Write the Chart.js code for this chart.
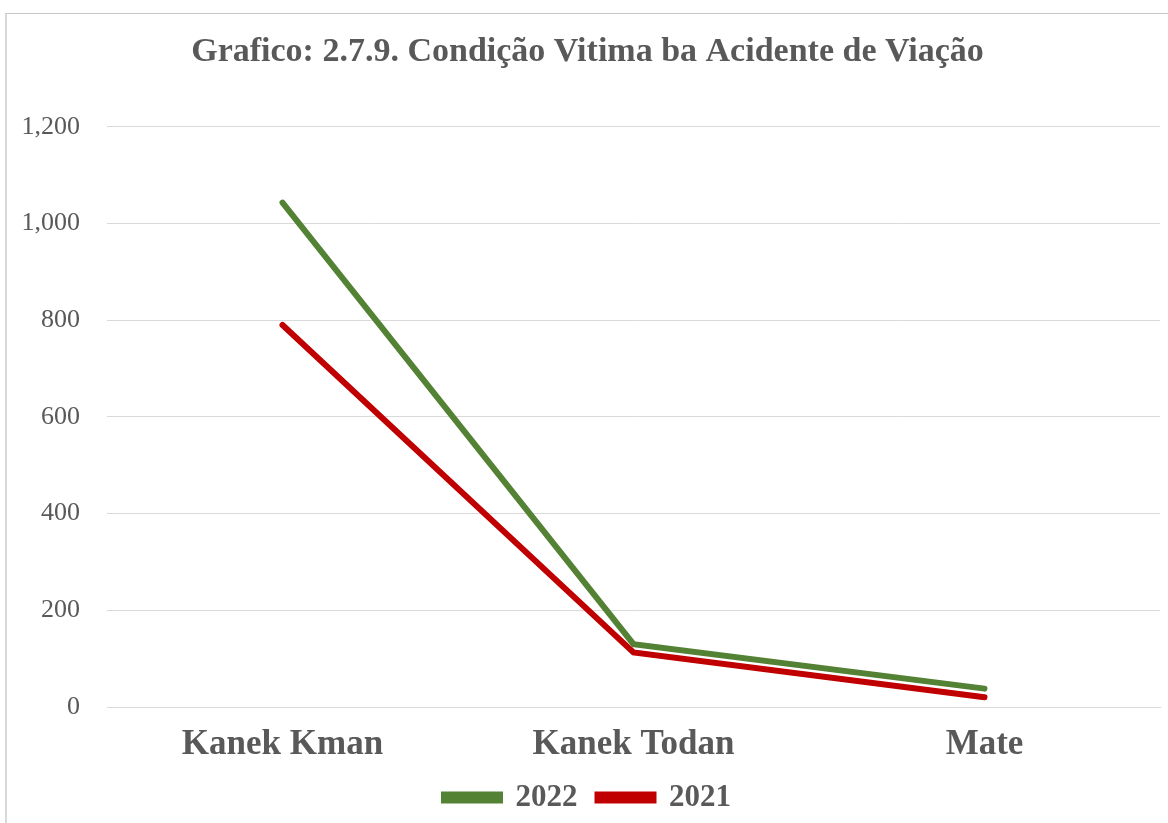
<!DOCTYPE html>
<html>
<head>
<meta charset="utf-8">
<script src="https://cdn.jsdelivr.net/npm/chart.js@4/dist/chart.umd.min.js"></script>
<style>
  body { margin: 0; background: #fff; }
  #frame { position: absolute; left: 5px; top: 13px; width: 1200px; height: 900px;
           border-left: 2px solid #d9d9d9; border-top: 1px solid #c8c8c8; }
  #wrap { position: absolute; left: 0; top: 0; width: 1168px; height: 823px; }
</style>
</head>
<body>
<div id="frame"></div>
<div id="wrap"><canvas id="chart"></canvas></div>
<script>
const categories = ['Kanek Kman', 'Kanek Todan', 'Mate'];
const values2022 = [1043, 130, 38];
const values2021 = [790, 113, 20];
const yTicks = [0, 200, 400, 600, 800, 1000, 1200];

const grey = '#595959';
const serif = "'Liberation Serif', 'Times New Roman', serif";

new Chart(document.getElementById('chart'), {
    type: 'line',
    data: {
        labels: categories,
        datasets: [
            {
                label: '2022',
                data: values2022,
                borderColor: '#548235',
                backgroundColor: '#548235',
                borderWidth: 6,
                pointRadius: 0,
                tension: 0,
                borderCapStyle: 'round'
            },
            {
                label: '2021',
                data: values2021,
                borderColor: '#c00000',
                backgroundColor: '#c00000',
                borderWidth: 6,
                pointRadius: 0,
                tension: 0,
                borderCapStyle: 'round'
            }
        ]
    },
    options: {
        responsive: true,
        maintainAspectRatio: false,
        animation: false,
        layout: { padding: { left: 15, right: 8, top: 0, bottom: 0 } },
        plugins: {
            title: {
                display: true,
                text: 'Grafico: 2.7.9. Condição Vitima ba Acidente de Viação',
                color: grey,
                font: { family: serif, size: 34, weight: 'bold' },
                padding: { top: 32, bottom: 54 }
            },
            legend: {
                position: 'bottom',
                maxHeight: 62,
                labels: {
                    color: grey,
                    font: { family: serif, size: 31, weight: 'bold' },
                    boxWidth: 56,
                    boxHeight: 6,
                    padding: 20
                }
            },
            tooltip: { enabled: false }
        },
        scales: {
            x: {
                offset: true,
                afterFit: scale => { scale.height = 55; },
                grid: { display: false, drawTicks: false },
                border: { color: '#d9d9d9', width: 1 },
                ticks: {
                    color: grey,
                    font: { family: serif, size: 35, weight: 'bold' },
                    padding: 17
                }
            },
            y: {
                min: 0,
                max: 1200,
                afterBuildTicks: scale => { scale.ticks = yTicks.map(v => ({ value: v })); },
                afterFit: scale => { scale.width = 92; },
                grid: { color: '#d9d9d9', drawTicks: false },
                border: { display: false },
                ticks: {
                    color: grey,
                    font: { family: serif, size: 26 },
                    padding: 27,
                    callback: v => v.toLocaleString('en-US')
                }
            }
        }
    }
});
</script>
</body>
</html>
